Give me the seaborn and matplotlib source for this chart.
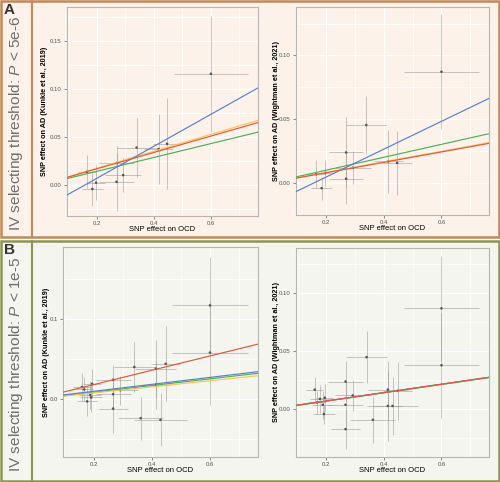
import numpy as np
import pandas as pd
import matplotlib
matplotlib.use("Agg")
import matplotlib.pyplot as plt
from matplotlib.patches import Rectangle
from matplotlib.lines import Line2D
import seaborn as sns

# ---------------- data ----------------
# Panel A (threshold P < 5e-6): SNP effects on OCD (shared)
xA = [0.165, 0.184, 0.197, 0.269, 0.269, 0.292, 0.339, 0.416, 0.446, 0.600]
xerrA = [0.030, 0.037, 0.030, 0.060, 0.060, 0.062, 0.070, 0.050, 0.050, 0.130]
# Kunkle
yA_kunkle = [0.014, -0.004, 0.0026, 0.023, 0.0035, 0.0104, 0.039, 0.0375, 0.043, 0.1156]
yerrA_kunkle = [0.017, 0.018, 0.018, 0.018, 0.030, 0.018, 0.031, 0.036, 0.047, 0.060]
# Wightman
yA_wight = [0.007, -0.004, 0.008, 0.024, 0.0034, 0.012, 0.0455, 0.017, 0.0158, 0.0873]
yerrA_wight = [0.011, 0.009, 0.010, 0.028, 0.020, 0.013, 0.0226, 0.025, 0.025, 0.045]

# Panel B (threshold P < 1e-5)
xB = [0.160, 0.168, 0.178, 0.188, 0.192, 0.195, 0.267, 0.267, 0.267, 0.292,
      0.340, 0.362, 0.414, 0.414, 0.430, 0.448, 0.600, 0.600]
xerrB = [0.030, 0.030, 0.035, 0.037, 0.037, 0.030, 0.060, 0.060, 0.050, 0.062,
         0.070, 0.078, 0.070, 0.050, 0.090, 0.050, 0.130, 0.130]
yB_kunkle = [0.015, 0.012, -0.003, 0.005, 0.002, 0.019, 0.024, 0.006, -0.012, 0.011,
             0.040, -0.024, 0.038, 0.018, -0.026, 0.044, 0.117, 0.058]
yerrB_kunkle = [0.017, 0.015, 0.018, 0.018, 0.018, 0.018, 0.018, 0.020, 0.030, 0.018,
                0.031, 0.027, 0.036, 0.030, 0.033, 0.047, 0.060, 0.065]
yB_wight = [0.017, 0.006, 0.009, 0.004, -0.004, 0.010, 0.024, 0.004, -0.017, 0.012,
            0.045, -0.009, 0.017, 0.003, 0.003, 0.016, 0.087, 0.038]
yerrB_wight = [0.011, 0.010, 0.012, 0.012, 0.009, 0.012, 0.018, 0.020, 0.017, 0.013,
               0.0226, 0.020, 0.025, 0.030, 0.025, 0.025, 0.045, 0.045]

# MR method lines: (intercept, slope) per method, order: green, yellow, blue, red
methods = ["Weighted median", "Weighted mode", "MR Egger", "IVW"]
method_colors = ["#4fae5b", "#f6c659", "#5a80c8", "#e2573d"]
linesA_kunkle = [(0.0, 0.072), (0.0, 0.088), (-0.026, 0.166), (0.0, 0.085)]
linesA_wight = [(0.0, 0.0506), (0.0, 0.0415), (-0.017, 0.109), (0.0, 0.0407)]
linesB_kunkle = [(0.0, 0.042), (0.0, 0.038), (0.0009, 0.0435), (0.0, 0.0897)]
linesB_wight = [(0.0, 0.0358), (0.0, 0.0360), (0.0, 0.0362), (0.0, 0.0361)]

xticks = [0.2, 0.4, 0.6]

# ---------------- style ----------------
sns.set_style("whitegrid")
plt.rcParams["font.family"] = ["Liberation Sans", "DejaVu Sans"]
plt.rcParams["mathtext.fontset"] = "custom"
plt.rcParams["mathtext.rm"] = "Liberation Sans"
plt.rcParams["mathtext.it"] = "Liberation Sans:italic"

W, H = 500, 482
fig = plt.figure(figsize=(W / 100, H / 100), dpi=100)


def fx(x):
    return x / W


def fy(y):
    return 1 - y / H


def frect(x0, y0, x1, y1, **kw):
    r = Rectangle((fx(x0), fy(y1)), fx(x1) - fx(x0), fy(y0) - fy(y1),
                  transform=fig.transFigure, zorder=-5, **kw)
    fig.patches.append(r)


bgA, edA = "#fcf2e9", "#c38756"
bgB, edB = "#f3f5ee", "#8d9552"
frect(1, 1, 499, 237, facecolor=bgA, edgecolor=edA, lw=1.8)
frect(1, 241, 499, 481, facecolor=bgB, edgecolor=edB, lw=1.8)
fig.add_artist(Line2D([fx(32), fx(32)], [fy(1), fy(237)], color=edA, lw=1.5,
                      transform=fig.transFigure, zorder=-4))
fig.add_artist(Line2D([fx(32), fx(32)], [fy(241), fy(481)], color=edB, lw=1.5,
                      transform=fig.transFigure, zorder=-4))

fig.text(fx(4), fy(2.5), "A", fontsize=11, fontweight="bold", color="#333333",
         ha="left", va="top")
fig.text(fx(4), fy(243), "B", fontsize=11, fontweight="bold", color="#333333",
         ha="left", va="top")
fig.text(fx(16.5), fy(123), r"IV selecting threshold: $\it{P}$ < 5e-6", rotation=90,
         fontsize=11.1, color="#6e6e6e", ha="center", va="center")
fig.text(fx(16.5), fy(364), r"IV selecting threshold: $\it{P}$ < 1e-5", rotation=90,
         fontsize=11.1, color="#6e6e6e", ha="center", va="center")


def panel(box, bg, x, xerr, y, yerr, lines, ylim, yticks, ylabels, ylabel, ylab_x):
    x0, y0, x1, y1 = box
    w, h = x1 - x0, y1 - y0
    ax = fig.add_axes([fx(x0), fy(y1), fx(x1) - fx(x0), fy(y0) - fy(y1)])
    ax.set_facecolor(bg)
    ax.set_xlim(0.095, 0.765)
    ax.set_ylim(*ylim)
    ax.set_xticks(xticks)
    ax.set_xticklabels([f"{t:.1f}" for t in xticks])
    ax.set_yticks(yticks)
    ax.set_yticklabels(ylabels)
    ax.set_xticks([0.1, 0.3, 0.5, 0.7], minor=True)
    ystep = yticks[1] - yticks[0]
    ax.set_yticks(np.arange(yticks[0] - ystep / 2, ylim[1], ystep), minor=True)
    ax.grid(True, which="major", color="white", lw=0.9)
    ax.grid(True, which="minor", color="white", lw=0.5)
    ax.set_axisbelow(True)
    for s in ax.spines.values():
        s.set_visible(True)
        s.set_color("#b5b5b5")
        s.set_linewidth(0.8)
    ax.tick_params(axis="both", which="major", length=2, width=0.6, color="#777777",
                   labelsize=4.3, labelcolor="#555555", pad=1.8, bottom=True, left=True)
    ax.tick_params(axis="both", which="minor", length=0)
    ax.errorbar(x, y, xerr=xerr, yerr=yerr, fmt="none", ecolor="#9a9a9a",
                elinewidth=0.55, alpha=0.7, capsize=0, zorder=2)
    df = pd.DataFrame({"x": x, "y": y})
    sns.scatterplot(data=df, x="x", y="y", ax=ax, s=3.5, color="#555555",
                    edgecolor="none", zorder=3)
    for (b, m), c in zip(lines, method_colors):
        ax.axline((0, b), slope=m, color=c, lw=0.85, zorder=4)
    ax.set_xlabel("SNP effect on OCD", fontsize=5.5, color="black")
    ax.set_ylabel(ylabel, fontsize=5.2, color="black", fontweight="bold")
    ax.xaxis.set_label_coords(0.5, -10 / h - 0.002)
    ax.yaxis.set_label_coords((ylab_x - x0) / w, 0.5)
    return ax


panel((67, 7, 258, 216), bgA, xA, xerrA, yA_kunkle, yerrA_kunkle, linesA_kunkle,
      (-0.032, 0.185), [0.0, 0.05, 0.10, 0.15], ["0.00", "0.05", "0.10", "0.15"],
      "SNP effect on AD (Kunkle et al., 2019)", 47.5)
panel((296, 7, 489, 215), bgA, xA, xerrA, yA_wight, yerrA_wight, linesA_wight,
      (-0.022, 0.138), [0.0, 0.05, 0.10], ["0.00", "0.05", "0.10"],
      "SNP effect on AD (Wightman et al., 2021)", 280)
panel((63, 247, 258, 457), bgB, xB, xerrB, yB_kunkle, yerrB_kunkle, linesB_kunkle,
      (-0.0725, 0.19), [0.0, 0.1], ["0.0", "0.1"],
      "SNP effect on AD (Kunkle et al., 2019)", 49.5)
panel((296, 248, 489, 457), bgB, xB, xerrB, yB_wight, yerrB_wight, linesB_wight,
      (-0.041, 0.139), [0.0, 0.05, 0.10], ["0.00", "0.05", "0.10"],
      "SNP effect on AD (Wightman et al., 2021)", 280)

fig.savefig("out.png", dpi=100)
